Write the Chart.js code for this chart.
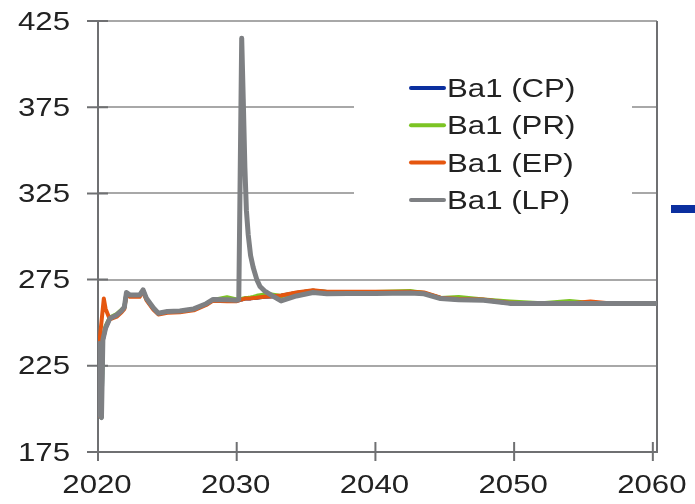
<!DOCTYPE html>
<html>
<head>
<meta charset="utf-8">
<script src="https://cdn.jsdelivr.net/npm/chart.js@4.4.1/dist/chart.umd.min.js"></script>
<style>
  html, body { margin: 0; padding: 0; background: #ffffff; }
  #wrap { width: 695px; height: 504px; position: relative; }
</style>
</head>
<body>
<div id="wrap"><canvas id="chart"></canvas></div>
<script>
// Sample years shared by all four series (null = no sample for that series)
const years = [
  2020.0, 2020.05, 2020.1, 2020.12, 2020.15, 2020.25, 2020.35, 2020.42, 2020.55, 2020.85,
  2021.35, 2021.7, 2021.9, 2022.05, 2022.3, 2023.0, 2023.25, 2023.5, 2024.0, 2024.35,
  2025.0, 2025.9, 2026.5, 2026.9, 2027.8, 2028.3, 2029.3, 2030.0, 2030.15, 2030.36,
  2030.47, 2030.59, 2030.7, 2030.83, 2031.0, 2031.19, 2031.45, 2031.68, 2032.0, 2032.4,
  2033.2, 2034.3, 2035.5, 2036.5, 2038, 2040, 2042.5, 2043.5, 2044.7, 2046,
  2047.8, 2049.7, 2052, 2054, 2055.5, 2057, 2060.3
];

const cpValues = [
  null, null, 238, null, 196, 195, 240, null, 247, 252.5,
  254.5, 257, 259, 267.3, 265.8, 265.8, 268.8, 263.8, 258.2, 255.3,
  256.3, 256.6, 257.3, 257.8, 260.8, 263.3, 263, 262.8, 263, 263.5,
  263.7, 264, 264, 264, 264.1, 264.3, 264.5, 264.8, 265, 265.2,
  265.6, 267.2, 268.5, 267.8, 267.6, 267.6, 267.6, 267.2, 264.2, 263.5,
  263.2, 261.3, 261.1, 261.1, 261.1, 261.1, 261.1
];

const prValues = [
  null, null, 238, null, 196, 195, 241, null, 248, 253,
  255, 257.5, 259, 267, 265.5, 265.5, 268.5, 263.5, 258, 255.2,
  256.2, 256.5, 257.2, 257.8, 260.8, 263.2, 264.8, 263.5, 263.5, 263.8,
  264, 264.2, 264.4, 264.5, 264.7, 265, 265.6, 266, 266.3, 266.5,
  265.5, 267.2, 268.5, 267.8, 267.8, 267.8, 268.4, 267.3, 264.4, 264.9,
  263.4, 262.3, 261.3, 262.6, 261.4, 261.1, 261.1
];

const epValues = [
  238, 196, null, 240, null, null, null, 264, 258, 252,
  253.5, 256, 258, 266.5, 265, 265, 268, 263, 257.5, 254.8,
  255.8, 256, 256.8, 257.2, 260.3, 262.8, 262.5, 262.5, 263, 263.5,
  263.7, 264, 264, 264, 264.1, 264.3, 264.5, 264.8, 265, 265.2,
  265.8, 267.5, 268.8, 268, 268, 268, 268, 267.5, 264.5, 263.8,
  263.5, 261.5, 261.2, 261.2, 262.3, 261.1, 261.1
];

const lpValues = [
  null, null, 238, null, 196, 195, 240, null, 247, 252.5,
  254.5, 257, 259, 267.5, 266, 266, 269, 264, 258.5, 255.5,
  256.5, 256.8, 257.5, 258, 261, 263.5, 263.3, 263, 263.5, 415,
  380, 340, 315, 301, 289, 282, 275, 271, 268.5, 266.5,
  262.6, 265.5, 267.5, 266.8, 267, 267, 267.2, 266.8, 264, 263.3,
  263, 261.2, 261.1, 261.1, 261.1, 261.1, 261.1
];

const seriesNames = ['Ba1 (CP)', 'Ba1 (PR)', 'Ba1 (EP)', 'Ba1 (LP)'];
const xTickValues = [2020, 2030, 2040, 2050, 2060];
const yTickValues = [175, 225, 275, 325, 375, 425];

const AXIS_COLOR = '#6f7072';
const GRID_COLOR = '#a8a8a8';
const TEXT_COLOR = '#222222';
const FONT = '26px "Liberation Sans", Arial, sans-serif';
const TEXT_STRETCH = 1.2;

function toPoints(values) {
  return years.map((y, i) => ({ x: y, y: values[i] }));
}

// Text drawn with a slight horizontal stretch
function wideText(ctx, text, x, y, align) {
  ctx.save();
  ctx.translate(x, y);
  ctx.scale(TEXT_STRETCH, 1);
  ctx.font = FONT;
  ctx.fillStyle = TEXT_COLOR;
  ctx.textAlign = align;
  ctx.textBaseline = 'middle';
  ctx.fillText(text, 0, 0);
  ctx.restore();
}

const framePlugin = {
  id: 'frame',
  beforeDatasetsDraw(chart) {
    const { ctx, chartArea: a, scales } = chart;
    ctx.save();
    // right border of the plot
    ctx.strokeStyle = AXIS_COLOR;
    ctx.lineWidth = 2;
    ctx.beginPath();
    ctx.moveTo(a.right, a.top);
    ctx.lineTo(a.right, a.bottom);
    ctx.stroke();
    // tick marks crossing the axes
    ctx.beginPath();
    scales.y.ticks.forEach(t => {
      const py = scales.y.getPixelForValue(t.value);
      ctx.moveTo(a.left - 11, py);
      ctx.lineTo(a.left + 10, py);
    });
    scales.x.ticks.forEach(t => {
      const px = scales.x.getPixelForValue(t.value);
      ctx.moveTo(px, a.bottom - 10);
      ctx.lineTo(px, a.bottom + 9);
    });
    ctx.stroke();

    // legend panel
    const lx = a.left + 256, ly = a.top + 36;
    ctx.fillStyle = '#ffffff';
    ctx.fillRect(lx, ly, 278, 170);
    chart.data.datasets.forEach((ds, i) => {
      const ty = a.top + 69 + i * 37.3;
      ctx.strokeStyle = ds.borderColor;
      ctx.lineWidth = 4;
      ctx.lineCap = 'round';
      ctx.beginPath();
      ctx.moveTo(lx + 57, ty - 2);
      ctx.lineTo(lx + 90, ty - 2);
      ctx.stroke();
      wideText(ctx, ds.label, lx + 93, ty, 'left');
    });

    // small marker beyond the right border
    ctx.fillStyle = '#0b2f9f';
    ctx.fillRect(a.right + 14, a.top + 184, 40, 8);
    ctx.restore();
  },
  afterDraw(chart) {
    const { ctx, chartArea: a, scales } = chart;
    scales.y.ticks.forEach(t => {
      wideText(ctx, String(t.value), a.left - 28, scales.y.getPixelForValue(t.value) + 1.5, 'right');
    });
    scales.x.ticks.forEach(t => {
      wideText(ctx, String(t.value), scales.x.getPixelForValue(t.value) - 1, a.bottom + 34, 'center');
    });
  }
};

const lineStyle = { pointRadius: 0, borderJoinStyle: 'round', borderCapStyle: 'round', spanGaps: true, tension: 0 };

new Chart(document.getElementById('chart'), {
  type: 'line',
  data: {
    datasets: [
      Object.assign({ label: seriesNames[0], data: toPoints(cpValues), borderColor: '#0b2f9f', borderWidth: 4, order: 3 }, lineStyle),
      Object.assign({ label: seriesNames[1], data: toPoints(prValues), borderColor: '#7cc424', borderWidth: 4, order: 2 }, lineStyle),
      Object.assign({ label: seriesNames[2], data: toPoints(epValues), borderColor: '#e5560f', borderWidth: 4, order: 1 }, lineStyle),
      Object.assign({ label: seriesNames[3], data: toPoints(lpValues), borderColor: '#7e8083', borderWidth: 5, order: 0 }, lineStyle)
    ]
  },
  options: {
    responsive: true,
    maintainAspectRatio: false,
    animation: false,
    layout: { padding: { top: 21, right: 38, bottom: 0, left: 0 } },
    plugins: { legend: { display: false }, tooltip: { enabled: false } },
    scales: {
      x: {
        type: 'linear',
        min: 2020,
        max: 2060.3,
        afterBuildTicks: s => { s.ticks = xTickValues.map(v => ({ value: v })); },
        afterFit: s => { s.height = 52; },
        grid: { display: false, drawTicks: false },
        border: { display: true, color: AXIS_COLOR, width: 2 },
        ticks: { display: false }
      },
      y: {
        type: 'linear',
        min: 175,
        max: 425,
        afterBuildTicks: s => { s.ticks = yTickValues.map(v => ({ value: v })); },
        afterFit: s => { s.width = 98; },
        grid: {
          drawTicks: false,
          lineWidth: 2,
          color: c => (c.tick && c.tick.value === 175 ? 'rgba(0,0,0,0)' : GRID_COLOR)
        },
        border: { display: true, color: AXIS_COLOR, width: 2 },
        ticks: { display: false }
      }
    }
  },
  plugins: [framePlugin]
});
</script>
</body>
</html>
